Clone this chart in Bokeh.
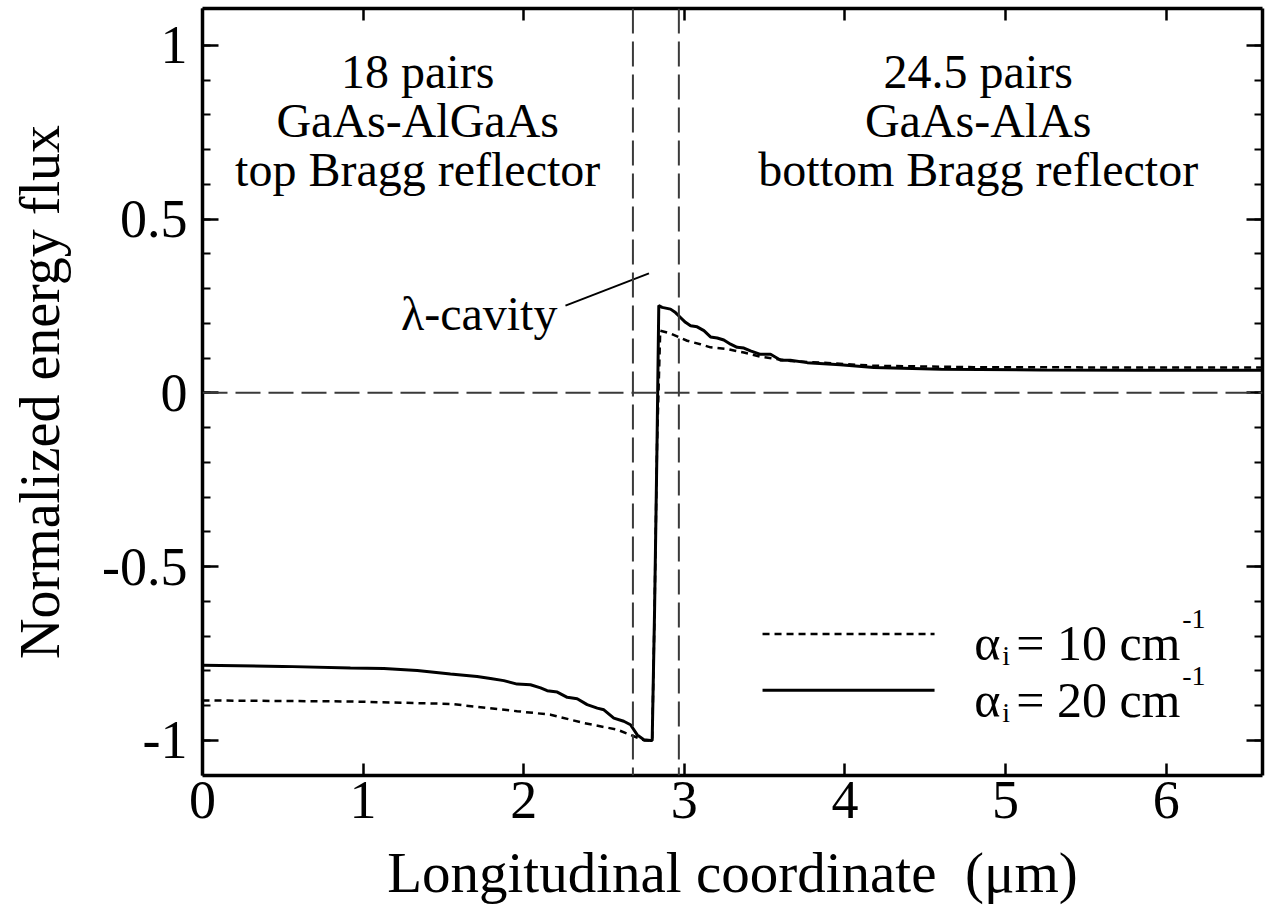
from bokeh.plotting import figure
from bokeh.models import (Range1d, FixedTicker, LinearAxis, NumeralTickFormatter,
                          CustomJSTickFormatter, Span, Label)
from bokeh.embed import file_html
from bokeh.resources import INLINE

# ---------------- data ----------------
# alpha_i = 20 cm^-1 (solid)
x_a20 = [0.0, 0.5, 0.921, 1.129, 1.337, 1.544, 1.710, 1.793, 1.876, 1.959, 2.042,
         2.105, 2.146, 2.209, 2.271, 2.333, 2.395, 2.458, 2.499, 2.561, 2.623,
         2.665, 2.707, 2.748, 2.790, 2.800, 2.815, 2.830, 2.841, 2.862, 2.914,
         2.945, 2.976, 3.007, 3.039, 3.080, 3.122, 3.163, 3.205, 3.246, 3.288,
         3.329, 3.371, 3.412, 3.474, 3.537, 3.600, 3.660, 3.765, 3.970, 4.180,
         4.600, 5.220, 5.840, 6.600]
y_a20 = [-0.784, -0.787, -0.792, -0.793, -0.799, -0.809, -0.816, -0.822, -0.828,
         -0.838, -0.840, -0.849, -0.857, -0.861, -0.876, -0.880, -0.897, -0.907,
         -0.912, -0.936, -0.945, -0.955, -0.984, -0.998, -1.000, -1.000, -0.620,
         -0.150, 0.251, 0.246, 0.241, 0.231, 0.217, 0.203, 0.193, 0.190, 0.179,
         0.161, 0.158, 0.152, 0.140, 0.131, 0.129, 0.121, 0.111, 0.111, 0.094,
         0.094, 0.087, 0.081, 0.073, 0.068, 0.066, 0.065, 0.065]

# alpha_i = 10 cm^-1 (dashed)
x_a10 = [0.0, 0.921, 1.544, 1.959, 2.167, 2.374, 2.582, 2.686, 2.750, 2.800,
         2.815, 2.830, 2.850, 2.914, 3.018, 3.100, 3.163, 3.267, 3.371, 3.474,
         3.660, 4.180, 4.800, 5.840, 6.600]
y_a10 = [-0.885, -0.888, -0.895, -0.916, -0.926, -0.950, -0.969, -0.988, -1.000,
         -1.000, -0.620, -0.150, 0.179, 0.171, 0.150, 0.140, 0.131, 0.126, 0.116,
         0.104, 0.092, 0.078, 0.074, 0.073, 0.073]

cavity_edges = [2.68, 2.966]
zero_level = 0.0

x_ticks = [0, 1, 2, 3, 4, 5, 6]
y_ticks = [-1, -0.5, 0, 0.5, 1]
y_minor = [round(-1 + 0.1 * i, 1) for i in range(21)]

left_block = ["18 pairs", "GaAs-AlGaAs", "top Bragg reflector"]
right_block = ["24.5 pairs", "GaAs-AlAs", "bottom Bragg reflector"]
legend_values = ["10", "20"]
x_title = "Longitudinal coordinate \u00a0(\u03bcm)"
y_title = "Normalized energy flux"

FONT = "Liberation Serif"

# ---------------- figure ----------------
p = figure(width=1265, height=907, x_range=Range1d(0, 6.6), y_range=Range1d(-1.101, 1.106),
           output_backend="svg", toolbar_location=None,
           min_border_left=202, min_border_right=3, min_border_top=8, min_border_bottom=132)
p.xgrid.visible = False
p.ygrid.visible = False
p.outline_line_color = None
p.background_fill_color = "white"
p.border_fill_color = "white"

# bottom axis
xa = p.xaxis[0]
xa.ticker = FixedTicker(ticks=x_ticks)
xa.formatter = NumeralTickFormatter(format="0")
# left axis
ya = p.yaxis[0]
ya.ticker = FixedTicker(ticks=y_ticks, minor_ticks=y_minor)
ya.formatter = NumeralTickFormatter(format="0.[0]")

top = LinearAxis(ticker=FixedTicker(ticks=x_ticks), formatter=CustomJSTickFormatter(code="return ''"))
right = LinearAxis(ticker=FixedTicker(ticks=y_ticks, minor_ticks=y_minor),
                   formatter=CustomJSTickFormatter(code="return ''"))
p.add_layout(top, "above")
p.add_layout(right, "right")

for ax in (xa, top):
    ax.major_tick_in = 12
    ax.major_tick_out = 0
    ax.minor_tick_in = 0
    ax.minor_tick_out = 0
for ax in (ya, right):
    ax.major_tick_in = 16
    ax.major_tick_out = 0
    ax.minor_tick_in = 8
    ax.minor_tick_out = 0
for ax in (xa, ya, top, right):
    ax.axis_line_width = 3.5
    ax.axis_line_color = "black"
    ax.major_tick_line_width = 2.5
    ax.minor_tick_line_width = 2
    ax.major_tick_line_color = "black"
    ax.minor_tick_line_color = "black"
    ax.major_label_text_font = FONT
    ax.major_label_text_color = "black"
    ax.axis_label_text_font = FONT
    ax.axis_label_text_font_style = "normal"
    ax.axis_label_text_color = "black"
for ax in (top, right):
    ax.major_label_text_font_size = "0px"
    ax.major_label_standoff = 0

xa.major_label_text_font_size = "54px"
xa.major_label_standoff = 6
xa.axis_label = x_title
xa.axis_label_text_font_size = "57px"
xa.axis_label_standoff = 20

ya.major_label_text_font_size = "54px"
ya.major_label_standoff = 15
ya.axis_label = y_title
ya.axis_label_text_font_size = "56px"
ya.axis_label_standoff = 28

# reference dashed lines
for e in cavity_edges:
    p.add_layout(Span(location=e, dimension="height", line_color="#3a3a3a",
                      line_width=2, line_dash="25 8"))
p.add_layout(Span(location=zero_level, dimension="width", line_color="#3a3a3a",
                  line_width=2, line_dash="25 8"))

# curves
p.line(x_a10, y_a10, line_color="black", line_width=2.5, line_dash="7 5")
p.line(x_a20, y_a20, line_color="black", line_width=3)

# region texts
block_y = [0.925, 0.784, 0.643]
for txt, yy in zip(left_block, block_y):
    p.add_layout(Label(x=1.34, y=yy, text=txt, text_font=FONT, text_font_size="48px",
                       text_align="center", text_baseline="alphabetic", text_color="black"))
for txt, yy in zip(right_block, block_y):
    p.add_layout(Label(x=4.83, y=yy, text=txt, text_font=FONT, text_font_size="48px",
                       text_align="center", text_baseline="alphabetic", text_color="black"))

# lambda-cavity label with leader line
p.add_layout(Label(x=2.21, y=0.228, text="\u03bb-cavity", text_font=FONT, text_font_size="48px",
                   text_align="right", text_baseline="alphabetic", text_color="black"))
p.line([2.26, 2.78], [0.251, 0.344], line_color="black", line_width=2)

# legend (manual)
LX0, LX1, LT = 3.487, 4.558, 4.805
rows = [(-0.694, -0.721, "7 5", 2.5), (-0.856, -0.885, "solid", 3)]
for (ly, ty, dash, lw), val in zip(rows, legend_values):
    p.line([LX0, LX1], [ly, ly], line_color="black", line_width=lw, line_dash=dash)
    p.add_layout(Label(x=LT, y=ty, text="\u03b1", text_font=FONT, text_font_size="50px",
                       text_baseline="alphabetic", text_color="black"))
    p.add_layout(Label(x=LT, y=ty - 0.034, x_offset=28, text="i", text_font=FONT,
                       text_font_size="28px", text_baseline="alphabetic", text_color="black"))
    p.add_layout(Label(x=LT, y=ty, x_offset=42, text="= " + val + " cm", text_font=FONT,
                       text_font_size="50px", text_baseline="alphabetic", text_color="black"))
    p.add_layout(Label(x=LT, y=ty + 0.07, x_offset=208, text="-1", text_font=FONT,
                       text_font_size="28px", text_baseline="alphabetic", text_color="black"))

open("out.html", "w").write(file_html(p, INLINE))
